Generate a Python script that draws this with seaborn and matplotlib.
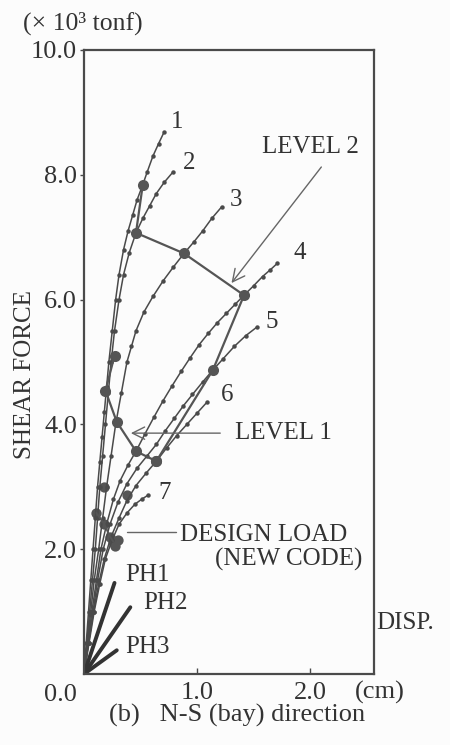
import matplotlib
matplotlib.use("Agg")
import matplotlib.pyplot as plt
import seaborn as sns
import pandas as pd

# ---- data ----
c1_x = [0, 0.02, 0.04, 0.06, 0.08, 0.10, 0.12, 0.14, 0.16, 0.18, 0.20, 0.22, 0.25, 0.28, 0.31, 0.35, 0.39, 0.43, 0.47, 0.52, 0.56, 0.61, 0.66, 0.71]
c1_y = [0, 0.5, 1.0, 1.5, 2.0, 2.5, 3.0, 3.4, 3.8, 4.2, 4.6, 5.0, 5.5, 6.0, 6.4, 6.8, 7.1, 7.35, 7.6, 7.84, 8.05, 8.3, 8.5, 8.69]
c2_x = [0, 0.025, 0.05, 0.075, 0.10, 0.12, 0.14, 0.165, 0.19, 0.215, 0.24, 0.27, 0.31, 0.35, 0.40, 0.46, 0.52, 0.58, 0.64, 0.71, 0.79]
c2_y = [0, 0.5, 1.0, 1.5, 2.0, 2.5, 3.0, 3.5, 4.0, 4.5, 5.0, 5.5, 6.0, 6.4, 6.75, 7.07, 7.3, 7.5, 7.7, 7.88, 8.05]
c3_x = [0, 0.03, 0.06, 0.09, 0.13, 0.165, 0.20, 0.24, 0.28, 0.33, 0.38, 0.42, 0.46, 0.53, 0.61, 0.70, 0.79, 0.885, 0.97, 1.05, 1.13, 1.22]
c3_y = [0, 0.5, 1.0, 1.5, 2.0, 2.5, 3.0, 3.5, 4.0, 4.5, 5.0, 5.25, 5.5, 5.8, 6.05, 6.3, 6.52, 6.74, 6.92, 7.1, 7.3, 7.49]
c4_x = [0, 0.035, 0.07, 0.11, 0.15, 0.20, 0.26, 0.32, 0.39, 0.46, 0.54, 0.62, 0.70, 0.78, 0.86, 0.94, 1.02, 1.10, 1.18, 1.26, 1.34, 1.416, 1.50, 1.58, 1.65, 1.71]
c4_y = [0, 0.5, 1.0, 1.5, 2.0, 2.4, 2.8, 3.1, 3.35, 3.57, 3.85, 4.12, 4.38, 4.62, 4.85, 5.07, 5.28, 5.46, 5.63, 5.78, 5.93, 6.07, 6.22, 6.37, 6.48, 6.58]
c5_x = [0, 0.04, 0.08, 0.12, 0.17, 0.23, 0.30, 0.38, 0.47, 0.56, 0.64, 0.72, 0.80, 0.88, 0.96, 1.05, 1.14, 1.23, 1.33, 1.43, 1.53]
c5_y = [0, 0.5, 1.0, 1.5, 2.0, 2.4, 2.75, 3.05, 3.3, 3.5, 3.68, 3.9, 4.1, 4.3, 4.48, 4.68, 4.87, 5.05, 5.25, 5.42, 5.56]
c6_x = [0, 0.04, 0.085, 0.13, 0.18, 0.24, 0.31, 0.38, 0.46, 0.55, 0.64, 0.73, 0.82, 0.91, 1.00, 1.09]
c6_y = [0, 0.5, 1.0, 1.45, 1.85, 2.2, 2.5, 2.78, 3.02, 3.22, 3.41, 3.62, 3.82, 4.0, 4.18, 4.36]
c7_x = [0, 0.045, 0.09, 0.14, 0.19, 0.25, 0.31, 0.38, 0.45, 0.51, 0.57]
c7_y = [0, 0.5, 1.0, 1.45, 1.85, 2.15, 2.4, 2.58, 2.72, 2.8, 2.87]
curve_names = ["1", "2", "3", "4", "5", "6", "7"]

lv2_x = [0.52, 0.46, 0.885, 1.416, 1.14, 0.64]
lv2_y = [7.84, 7.07, 6.74, 6.07, 4.87, 3.41]
lv1_x = [0.27, 0.19, 0.29, 0.46, 0.64]
lv1_y = [5.10, 4.54, 4.04, 3.57, 3.41]
low_x = [0.18, 0.38, 0.11, 0.18, 0.23, 0.26, 0.30, 0.27]
low_y = [3.00, 2.87, 2.58, 2.40, 2.20, 2.12, 2.14, 2.05]

ph_names = ["PH1", "PH2", "PH3"]
ph_x = [0.27, 0.41, 0.29]
ph_y = [1.46, 1.07, 0.38]

ytick_vals = [2.0, 4.0, 6.0, 8.0, 10.0]
ytick_labels = ["2.0", "4.0", "6.0", "8.0", "10.0"]
xtick_vals = [1.0, 2.0]
xtick_labels = ["1.0", "2.0"]

# ---- figure ----
sns.set_theme(style="white")
plt.rcParams['font.family'] = ['Liberation Serif', 'DejaVu Serif']

INK = "#4a4a4a"
TXT = "#333333"
fig = plt.figure(figsize=(4.5, 7.45), dpi=100, facecolor="#fcfcfc")
ax = fig.add_axes([84/450, 1-674/745, 290/450, 624/745])
ax.set_facecolor("#fcfcfc")

curves = [(c1_x, c1_y), (c2_x, c2_y), (c3_x, c3_y), (c4_x, c4_y),
          (c5_x, c5_y), (c6_x, c6_y), (c7_x, c7_y)]
rows = []
for name, (xs, ys) in zip(curve_names, curves):
    for i, (a, b) in enumerate(zip(xs, ys)):
        rows.append({"curve": name, "order": i, "disp": a, "force": b})
df = pd.DataFrame(rows)
sns.lineplot(data=df, x="disp", y="force", units="curve", estimator=None, sort=False,
             color=INK, lw=1.1, marker="o", markersize=3.2, markeredgewidth=0,
             ax=ax, legend=False)

# PH lines
for n, px, py in zip(ph_names, ph_x, ph_y):
    sns.lineplot(x=[0, px], y=[0, py], color="#333333", lw=2.8, ax=ax, legend=False)

# level lines with big markers
for xs, ys in [(lv2_x, lv2_y), (lv1_x, lv1_y)]:
    sns.lineplot(x=xs, y=ys, sort=False, estimator=None, color="#555555", lw=1.6,
                 marker="o", markersize=8, markeredgewidth=0, ax=ax, legend=False)
sns.scatterplot(x=low_x, y=low_y, color="#555555", s=55, linewidth=0, ax=ax, legend=False)
sns.lineplot(x=low_x[2:6], y=low_y[2:6], sort=False, estimator=None, color="#555555",
             lw=1.4, ax=ax, legend=False)

ax.set_xlim(0, 2.566)
ax.set_ylim(0, 10)
ax.set_yticks(ytick_vals)
ax.set_yticklabels(ytick_labels)
ax.set_xticks(xtick_vals)
ax.set_xticklabels(xtick_labels)
ax.tick_params(axis="y", direction="out", length=3, width=1, color=INK, labelsize=19,
               labelcolor=TXT, pad=2, left=True)
ax.tick_params(axis="x", direction="in", length=4, width=1, color=INK, labelsize=19,
               labelcolor=TXT, pad=6, bottom=True)
for s in ax.spines.values():
    s.set_color(INK)
    s.set_linewidth(1.6)
ax.set_xlabel("")
ax.set_ylabel("")

tk = dict(color=TXT, fontsize=18, va="center", clip_on=False)
label_pos = [(0.823, 8.85), (0.929, 8.19), (1.345, 7.60), (1.91, 6.75),
             (1.66, 5.64), (1.27, 4.47), (0.717, 2.90)]
for n, (lx, ly) in zip(curve_names, label_pos):
    ax.text(lx, ly, n, ha="center", **tk)

ax.text(2.0, 8.45, "LEVEL 2", ha="center", **tk)
ax.annotate("", xy=(1.29, 6.23), xytext=(2.115, 8.16),
            arrowprops=dict(arrowstyle="->", color="#666666", lw=1.0, mutation_scale=22))
ax.text(1.336, 3.86, "LEVEL 1", ha="left", **tk)
ax.annotate("", xy=(0.39, 3.86), xytext=(1.23, 3.86),
            arrowprops=dict(arrowstyle="->", color="#666666", lw=1.0, mutation_scale=22))
ax.text(0.85, 2.23, "DESIGN LOAD", ha="left", **tk)
ax.text(2.46, 1.83, "(NEW CODE)", ha="right", **tk)
ax.plot([0.38, 0.81], [2.28, 2.28], color="#666666", lw=1.0)
ph_lab = [(0.363, 1.59), (0.52, 1.14), (0.363, 0.43)]
for n, (lx, ly) in zip(ph_names, ph_lab):
    ax.text(lx, ly, n, ha="left", **tk)
ax.text(2.59, 0.82, "DISP.", ha="left", **tk)
ax.text(2.62, -0.29, "(cm)", ha="center", **dict(tk, fontsize=19))
ax.text(-0.21, -0.34, "0.0", ha="center", **dict(tk, fontsize=19))

fig.text(83/450, 1-23/745, "(× 10³ tonf)", ha="center", va="center",
         fontsize=18.5, color=TXT)
fig.text(25/450, 1-375/745, "SHEAR FORCE", rotation=90, ha="center", va="center",
         fontsize=18, color=TXT)
fig.text(237/450, 1-715/745, "(b)   N-S (bay) direction", ha="center", va="center",
         fontsize=19, color=TXT)

fig.savefig("out.png", dpi=100, facecolor=fig.get_facecolor())
